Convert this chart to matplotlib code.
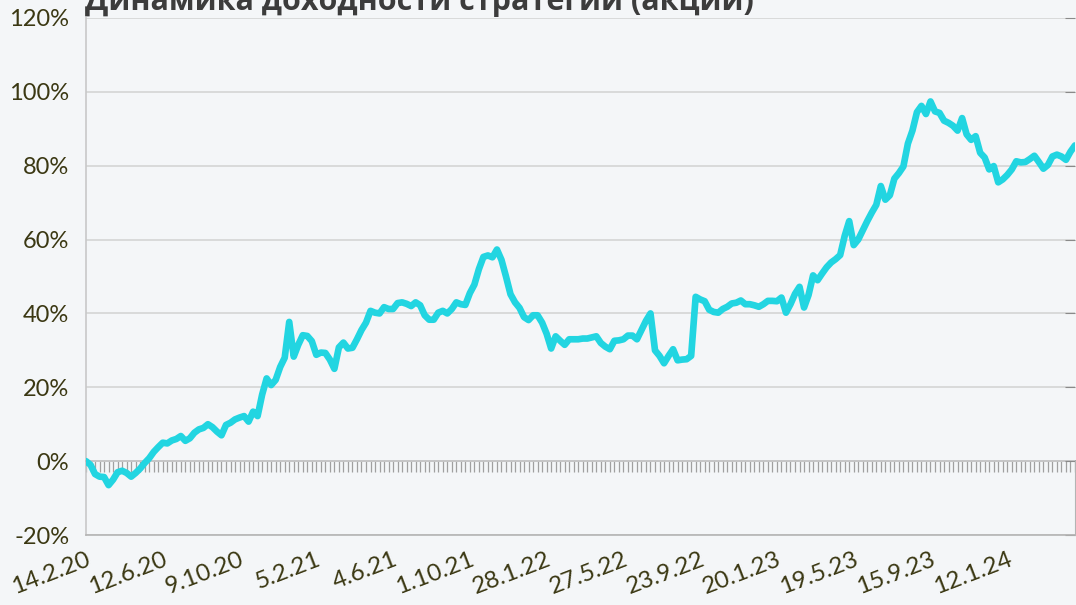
import matplotlib
matplotlib.use("Agg")
import matplotlib.pyplot as plt
from matplotlib.ticker import FuncFormatter

# weekly strategy return, %
returns = [
    0.0, -1.0, -3.5, -4.2, -4.3, -6.5, -5.0, -3.0, -2.6, -3.2,
    -4.2, -3.2, -2.0, -0.5, 0.8, 2.5, 3.8, 5.0, 4.8, 5.6,
    6.0, 6.8, 5.5, 6.2, 7.7, 8.6, 9.0, 10.0, 9.2, 8.0,
    7.0, 9.8, 10.4, 11.3, 11.8, 12.2, 10.7, 13.4, 12.2, 18.0,
    22.4, 20.6, 22.0, 25.5, 28.0, 37.7, 28.3, 31.5, 34.1, 33.9,
    32.5, 28.8, 29.4, 29.3, 27.5, 25.0, 30.8, 32.1, 30.5, 30.7,
    33.0, 35.5, 37.5, 40.7, 40.2, 40.0, 41.7, 41.2, 41.2, 42.8,
    43.0, 42.6, 42.0, 43.0, 42.2, 39.5, 38.3, 38.3, 40.2, 40.7,
    40.0, 41.2, 43.0, 42.5, 42.3, 45.5, 47.8, 52.0, 55.3, 55.7,
    55.2, 57.3, 54.5, 50.0, 45.2, 43.0, 41.5, 39.0, 38.2, 39.5,
    39.5, 37.5, 34.5, 30.5, 33.8, 32.6, 31.5, 33.0, 33.0, 33.0,
    33.2, 33.2, 33.5, 33.8, 32.0, 31.0, 30.3, 32.6, 32.7, 33.0,
    34.0, 34.0, 33.0, 35.5, 38.0, 40.0, 30.0, 28.5, 26.5, 28.5,
    30.3, 27.3, 27.5, 27.6, 28.5, 44.5, 43.8, 43.3, 41.0, 40.4,
    40.2, 41.2, 41.8, 42.7, 42.9, 43.5, 42.5, 42.5, 42.2, 41.8,
    42.5, 43.4, 43.4, 43.3, 44.3, 40.2, 42.5, 45.3, 47.2, 41.6,
    45.0, 50.3, 49.0, 50.8, 52.5, 53.8, 54.7, 55.8, 61.0, 65.0,
    58.5, 60.0, 62.5, 65.0, 67.3, 69.4, 74.5, 70.8, 72.0, 76.5,
    78.0, 79.8, 86.0, 89.5, 94.5, 96.2, 94.0, 97.4, 94.7, 94.3,
    92.2, 91.6, 90.8, 89.5, 92.9, 88.5, 87.0, 88.0, 83.5, 82.2,
    79.0, 79.9, 75.5, 76.3, 77.5, 79.0, 81.2, 80.9, 81.0, 81.8,
    82.7, 81.0, 79.2, 80.2, 82.5, 83.0, 82.5, 81.6, 83.8, 85.5,
]
date_labels = ["14.2.20", "12.6.20", "9.10.20", "5.2.21", "4.6.21", "1.10.21",
               "28.1.22", "27.5.22", "23.9.22", "20.1.23", "19.5.23", "15.9.23",
               "12.1.24"]
label_step = 17
title = "Динамика доходности стратегии (акции)"

bg = "#F4F6F8"
text_color = "#3B3813"
line_color = "#22D5E1"

plt.rcParams["font.family"] = ["Lato", "DejaVu Sans"]

fig = plt.figure(figsize=(10.76, 6.05), dpi=100, facecolor=bg)
ax = fig.add_axes([86 / 1076, 70 / 605, 989 / 1076, 517 / 605], facecolor=bg)

x = list(range(len(returns)))
ax.plot(x, returns, color=line_color, linewidth=4.8, solid_joinstyle="round",
        solid_capstyle="round", zorder=3)

ax.set_xlim(0, len(returns) - 1)
ax.set_ylim(-20, 120)
ax.set_yticks(range(-20, 121, 20))
ax.yaxis.set_major_formatter(FuncFormatter(lambda v, p: f"{v:.0f}%"))
ax.grid(axis="y", color="#D2D2D2", linewidth=1.1, zorder=0)

ax.spines["top"].set_visible(False)
ax.spines["left"].set_color("#C8C8C8")
ax.spines["bottom"].set_color("#B4B4B4")
ax.spines["right"].set_color("#B4B4B4")
ax.spines["right"].set_bounds(-20, 0)
ax.spines["left"].set_linewidth(1.2)
ax.spines["bottom"].set_linewidth(1.2)

ax.tick_params(axis="y", left=False, right=True, direction="in", length=7,
               color="#8A8A8A", labelsize=17, labelcolor=text_color, pad=12)

ticks = list(range(0, len(returns), label_step))[:len(date_labels)]
ax.set_xticks(ticks)
ax.set_xticklabels(date_labels)
ax.tick_params(axis="x", length=0, labelsize=17.5, labelcolor=text_color, pad=10)
for lbl in ax.get_xticklabels():
    lbl.set_rotation(21)
    lbl.set_ha("right")
    lbl.set_va("top")
    lbl.set_rotation_mode("anchor")

# category axis crossing at 0% with a tick for every week
zero_axis = ax.secondary_xaxis(20 / 140)
zero_axis.set_xticks(x)
zero_axis.set_xticklabels([])
zero_axis.tick_params(axis="x", direction="out", length=8, width=0.9, color="#A0A0A0")
zero_axis.spines["bottom"].set_color("#9A9A9A")
zero_axis.spines["bottom"].set_linewidth(1.3)
zero_axis.xaxis.set_ticks_position("bottom")

fig.text(85 / 1076, 1 - 10 / 605, title, fontsize=22, fontweight="bold",
         color="#3C3C3C", ha="left", va="baseline",
         family=["Open Sans", "DejaVu Sans"])

fig.savefig("out.png", dpi=100, facecolor=bg)
